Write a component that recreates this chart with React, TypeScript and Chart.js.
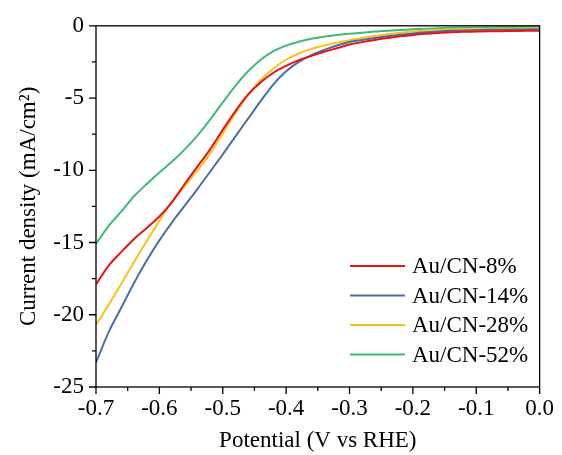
import React, { useEffect, useRef } from "react";
import { Chart, registerables } from "chart.js";

Chart.register(...registerables);

const potential = [
  -0.7, -0.68, -0.66, -0.64, -0.62, -0.6, -0.58, -0.56, -0.54, -0.52, -0.5, -0.48,
  -0.46, -0.44, -0.42, -0.4, -0.38, -0.36, -0.34, -0.32, -0.3, -0.28, -0.26, -0.24,
  -0.22, -0.2, -0.18, -0.16, -0.14, -0.12, -0.1, -0.08, -0.06, -0.04, -0.02, 0.0,
];

const au8 = [
  -17.9, -16.6, -15.65, -14.75, -14.0, -13.2, -12.2, -10.95, -9.75, -8.55, -7.2, -5.9,
  -4.75, -3.9, -3.25, -2.78, -2.38, -2.08, -1.8, -1.55, -1.3, -1.13, -0.98, -0.85,
  -0.73, -0.63, -0.55, -0.49, -0.45, -0.42, -0.4, -0.38, -0.37, -0.36, -0.35, -0.34,
];

const au14 = [
  -23.3, -21.2, -19.5, -17.8, -16.25, -14.85, -13.6, -12.45, -11.3, -10.1, -8.9, -7.65,
  -6.43, -5.2, -4.05, -3.15, -2.5, -2.03, -1.67, -1.36, -1.12, -0.98, -0.85, -0.73,
  -0.62, -0.53, -0.45, -0.39, -0.35, -0.32, -0.3, -0.28, -0.27, -0.26, -0.25, -0.24,
];

const au28 = [
  -20.7, -19.3, -17.85, -16.35, -14.9, -13.5, -12.15, -11.1, -10.0, -8.85, -7.45, -6.05,
  -4.8, -3.75, -2.95, -2.35, -1.92, -1.6, -1.36, -1.17, -1.0, -0.85, -0.7, -0.58,
  -0.48, -0.4, -0.33, -0.28, -0.25, -0.23, -0.21, -0.2, -0.19, -0.18, -0.17, -0.16,
];

const au52 = [
  -15.1, -13.85, -12.85, -11.8, -10.95, -10.15, -9.4, -8.55, -7.6, -6.5, -5.3, -4.15,
  -3.15, -2.35, -1.75, -1.37, -1.1, -0.9, -0.75, -0.64, -0.55, -0.48, -0.4, -0.34,
  -0.29, -0.24, -0.2, -0.17, -0.14, -0.12, -0.11, -0.1, -0.09, -0.085, -0.08, -0.07,
];

const seriesLabels = ["Au/CN-8%", "Au/CN-14%", "Au/CN-28%", "Au/CN-52%"];
const seriesValues = [au8, au14, au28, au52];
const seriesColors = ["#e5141b", "#4a6ea6", "#f5c21c", "#3dba77"];

const xTitle = "Potential (V vs RHE)";
const yTitle = "Current density (mA/cm²)";

const FONT = "'Liberation Serif', 'Times New Roman', serif";

const framePlugin = {
  id: "frameAndTicks",
  afterDraw(chart: any) {
    const { ctx, chartArea } = chart;
    const xs = chart.scales.x;
    const ys = chart.scales.y;
    ctx.save();
    ctx.strokeStyle = "#000";
    ctx.lineWidth = 1.3;
    ctx.strokeRect(chartArea.left, chartArea.top, chartArea.right - chartArea.left, chartArea.bottom - chartArea.top);
    ctx.beginPath();
    const xt = xs.ticks.map((t: any) => t.value);
    for (let i = 0; i < xt.length; i++) {
      const px = xs.getPixelForValue(xt[i]);
      ctx.moveTo(px, chartArea.bottom);
      ctx.lineTo(px, chartArea.bottom + 7);
      if (i < xt.length - 1) {
        const mx = xs.getPixelForValue((xt[i] + xt[i + 1]) / 2);
        ctx.moveTo(mx, chartArea.bottom);
        ctx.lineTo(mx, chartArea.bottom + 4);
      }
    }
    const yt = ys.ticks.map((t: any) => t.value);
    for (let i = 0; i < yt.length; i++) {
      const py = ys.getPixelForValue(yt[i]);
      ctx.moveTo(chartArea.left, py);
      ctx.lineTo(chartArea.left - 7, py);
      if (i < yt.length - 1) {
        const my = ys.getPixelForValue((yt[i] + yt[i + 1]) / 2);
        ctx.moveTo(chartArea.left, my);
        ctx.lineTo(chartArea.left - 4, my);
      }
    }
    ctx.stroke();

    // legend
    const rowY0 = 266;
    const rowGap = 29.5;
    ctx.font = `23px ${FONT}`;
    ctx.textBaseline = "middle";
    ctx.textAlign = "left";
    chart.data.datasets.forEach((ds: any, i: number) => {
      const y = rowY0 + i * rowGap;
      ctx.beginPath();
      ctx.strokeStyle = ds.borderColor;
      ctx.lineWidth = 2;
      ctx.moveTo(350, y);
      ctx.lineTo(405, y);
      ctx.stroke();
      ctx.fillStyle = "#000";
      ctx.fillText(ds.label, 412, y + 1);
    });
    ctx.restore();
  },
};

export default function App() {
  const ref = useRef<HTMLCanvasElement>(null);

  useEffect(() => {
    if (!ref.current) return;
    const datasets = seriesLabels.map((label, i) => ({
      label,
      data: potential.map((x, j) => ({ x, y: seriesValues[i][j] })),
      borderColor: seriesColors[i],
      backgroundColor: seriesColors[i],
      borderWidth: 2,
      pointRadius: 0,
      cubicInterpolationMode: "monotone" as const,
      fill: false,
    }));
    const chart = new Chart(ref.current, {
      type: "line",
      data: { datasets },
      options: {
        animation: false,
        responsive: false,
        devicePixelRatio: 1,
        layout: { padding: { top: 25, right: 17, left: 0, bottom: 0 } },
        plugins: { legend: { display: false }, tooltip: { enabled: false } },
        scales: {
          x: {
            type: "linear",
            min: -0.7,
            max: 0,
            afterFit: (s: any) => {
              s.height = 68;
            },
            grid: { display: true, drawOnChartArea: false, drawTicks: false, color: "rgba(0,0,0,0)" },
            border: { display: false },
            ticks: {
              stepSize: 0.1,
              padding: 8,
              color: "#000",
              font: { family: FONT, size: 23 },
              callback: (v: any) => (Math.abs(Number(v)) < 1e-9 ? "0.0" : Number(v).toFixed(1)),
            },
            title: {
              display: true,
              text: xTitle,
              color: "#000",
              font: { family: FONT, size: 23 },
              padding: { top: 0, bottom: 0 },
            },
          },
          y: {
            type: "linear",
            min: -25,
            max: 0,
            afterFit: (s: any) => {
              s.width = 96;
            },
            grid: { display: true, drawOnChartArea: false, drawTicks: false, color: "rgba(0,0,0,0)" },
            border: { display: false },
            ticks: {
              stepSize: 5,
              padding: 12,
              color: "#000",
              font: { family: FONT, size: 23 },
            },
            title: {
              display: true,
              text: yTitle,
              color: "#000",
              font: { family: FONT, size: 23 },
              padding: { top: 15, bottom: 0 },
            },
          },
        },
      },
      plugins: [framePlugin],
    });
    return () => chart.destroy();
  }, []);

  return (
    <div style={{ position: "absolute", left: 0, top: 0, width: 562, height: 455, background: "#fff" }}>
      <canvas ref={ref} width={562} height={455} />
    </div>
  );
}
